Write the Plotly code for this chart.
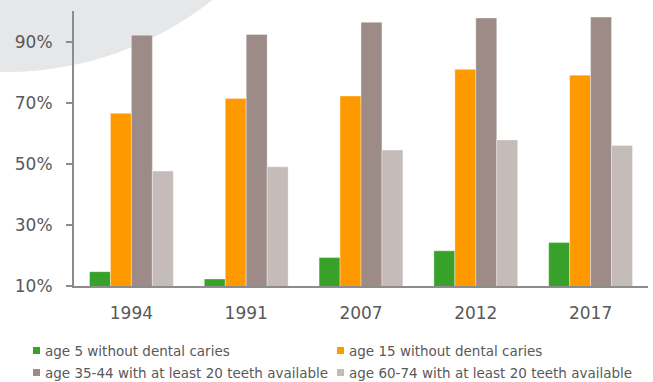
import plotly.graph_objects as go

# Survey years (category axis, in display order)
years = ["1994", "1991", "2007", "2012", "2017"]

# Share of each group, in percent
age5_no_caries = [14.7, 12.3, 19.3, 21.5, 24.2]
age15_no_caries = [66.5, 71.4, 72.2, 80.9, 79.0]
age35_44_20_teeth = [92.1, 92.3, 96.3, 97.7, 98.0]
age60_74_20_teeth = [47.6, 49.0, 54.5, 57.8, 56.0]

series_names = [
    "age 5 without dental caries",
    "age 15 without dental caries",
    "age 35-44 with at least 20 teeth available",
    "age 60-74 with at least 20 teeth available",
]
series_values = [age5_no_caries, age15_no_caries, age35_44_20_teeth, age60_74_20_teeth]
series_colors = ["#38A12A", "#FF9900", "#9D8B87", "#C5BBB8"]

# y-axis ticks
tick_values = [10, 30, 50, 70, 90]
tick_labels = [f"{v}%" for v in tick_values]

FONT = "DejaVu Sans"
TEXT = "#595959"
AXIS = "#8C8C8C"

fig = go.Figure()
for name, vals, col in zip(series_names, series_values, series_colors):
    fig.add_trace(go.Bar(
        x=years, y=vals, name=name, showlegend=False,
        marker=dict(color=col, line=dict(color="rgba(255,255,255,0.45)", width=0.8)),
    ))

W, H = 653, 382
ML, MR, MT, MB = 74, 5, 11, 96
pw, ph = W - ML - MR, H - MT - MB

def px_x(px):
    return (px - ML) / pw

def px_y(py):
    return (H - MB - py) / ph

# large pale disc in the upper-left background
fig.add_shape(
    type="circle", xref="paper", yref="paper", layer="below",
    x0=px_x(6 - 332), x1=px_x(6 + 332), y0=px_y(-260 + 332), y1=px_y(-260 - 332),
    fillcolor="#E6E7E9", line=dict(width=0),
)

# compact two-column key below the chart: small square swatch + label
key_cols = [33, 337]   # left edge of swatch, px
key_rows = [350.5, 372.5]  # vertical centre of each row, px
SW = 7
for i, (name, col) in enumerate(zip(series_names, series_colors)):
    cx = key_cols[i % 2]
    cy = key_rows[i // 2]
    fig.add_shape(
        type="rect", xref="paper", yref="paper",
        x0=px_x(cx), x1=px_x(cx + SW), y0=px_y(cy - SW / 2), y1=px_y(cy + SW / 2),
        fillcolor=col, line=dict(width=0),
    )
    fig.add_annotation(
        xref="paper", yref="paper", x=px_x(cx + SW + 4), y=px_y(cy),
        xanchor="left", yanchor="middle", showarrow=False, text=name,
        font=dict(size=13.5, color=TEXT, family=FONT), borderpad=0,
    )

fig.update_layout(
    width=W, height=H,
    margin=dict(l=ML, r=MR, t=MT, b=MB, autoexpand=False),
    paper_bgcolor="white", plot_bgcolor="rgba(0,0,0,0)",
    barmode="group", bargap=0.27, bargroupgap=0,
    font=dict(family=FONT, color=TEXT),
    showlegend=False,
)
fig.update_xaxes(
    showline=True, linecolor=AXIS, linewidth=2, showgrid=False,
    ticks="", tickfont=dict(size=17, color=TEXT), ticklabelstandoff=11,
)
fig.update_yaxes(
    range=[10, 100], showline=True, linecolor=AXIS, linewidth=2, showgrid=False,
    zeroline=False, ticks="outside", ticklen=6, tickwidth=2, tickcolor=AXIS,
    tickvals=tick_values, ticktext=tick_labels,
    tickfont=dict(size=17, color=TEXT), ticklabelstandoff=10,
)

fig.write_html("out.html")
